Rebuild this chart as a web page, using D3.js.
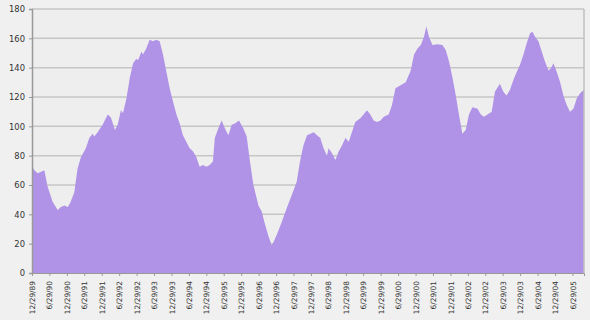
<!DOCTYPE html>
<html>
<head>
<meta charset="utf-8">
<script src="https://cdn.jsdelivr.net/npm/d3@7"></script>
<style>
  body { margin: 0; background: #f0f0f0; }
  text { font-family: "DejaVu Sans", Verdana, sans-serif; fill: #333; }
</style>
</head>
<body>
<script>
// readings (date, value)
var dates = [
  "1989-12-29","1990-01-23","1990-02-27","1990-05-07","1990-06-10","1990-08-02","1990-09-24","1990-10-28",
  "1990-12-03","1991-01-07","1991-02-04","1991-03-17","1991-04-20","1991-05-25","1991-07-16","1991-08-21",
  "1991-09-25","1991-10-13","1991-11-16","1992-01-08","1992-03-01","1992-04-04","1992-05-16","1992-06-13",
  "1992-07-18","1992-08-08","1992-09-13","1992-10-18","1992-11-22","1992-12-27","1993-01-13","1993-02-18",
  "1993-03-05","1993-04-09","1993-05-14","1993-06-18","1993-07-23","1993-08-27","1993-10-01","1993-11-06",
  "1993-12-10","1994-01-14","1994-02-19","1994-03-25","1994-04-28","1994-06-02","1994-07-07","1994-08-11",
  "1994-09-16","1994-10-20","1994-11-24","1994-12-30","1995-02-02","1995-03-08","1995-03-28","1995-05-03",
  "1995-06-07","1995-07-12","1995-08-17","1995-09-21","1995-10-25","1995-12-06","1996-01-21","1996-02-25",
  "1996-03-30","1996-05-05","1996-06-27","1996-07-31","1996-09-04","1996-10-10","1996-11-13","1996-12-01",
  "1997-01-05","1997-02-27","1997-04-18","1997-06-10","1997-08-01","1997-09-05","1997-10-11","1997-11-18",
  "1998-01-28","1998-03-02","1998-04-06","1998-05-10","1998-06-14","1998-07-02","1998-08-06","1998-09-11",
  "1998-10-16","1998-11-19","1998-12-25","1999-01-29","1999-03-03","1999-04-07","1999-05-30","1999-07-03",
  "1999-08-07","1999-09-12","1999-10-17","1999-11-21","1999-12-27","2000-01-31","2000-03-22","2000-04-26",
  "2000-06-01","2000-07-26","2000-09-17","2000-11-08","2000-12-13","2001-01-18","2001-02-22","2001-03-27",
  "2001-04-21","2001-05-18","2001-06-23","2001-08-14","2001-10-06","2001-11-10","2001-12-15","2002-01-20",
  "2002-02-23","2002-03-28","2002-05-03","2002-06-07","2002-07-11","2002-08-16","2002-10-08","2002-11-12",
  "2002-12-16","2003-01-21","2003-03-06","2003-04-09","2003-05-31","2003-07-06","2003-08-09","2003-09-14",
  "2003-10-19","2003-11-23","2003-12-28","2004-02-02","2004-03-07","2004-04-11","2004-05-06","2004-06-02",
  "2004-07-08","2004-08-11","2004-09-15","2004-10-21","2004-11-17","2004-12-12","2005-01-16","2005-02-20",
  "2005-03-26","2005-04-30","2005-06-03","2005-07-09","2005-08-13","2005-09-17","2005-10-28"
];
var values = [
  73, 70, 68, 70, 59, 48.6, 43, 45,
  46, 45, 48, 55, 71, 79, 85, 92,
  95, 93, 96, 101, 108, 106, 97.5, 101,
  111, 109, 119, 133, 143, 146, 145, 151,
  149, 153, 159, 158, 159, 158, 149, 137,
  126, 117, 108, 102, 94, 89.5, 85, 83,
  79, 72.5, 73.6, 72.5, 73.6, 76, 92, 98.6,
  104, 98.6, 94, 101, 102, 104, 98.6, 93,
  76, 60, 46, 42, 33, 25, 19, 21,
  26, 35, 44, 53, 62, 76, 87, 94,
  96, 94, 92, 85, 80, 85, 81.6, 77,
  83, 87, 92, 89.5, 96, 103, 105.5, 108,
  111, 108, 104, 103, 104, 106.5, 108, 114.5,
  126, 128, 130, 138, 149, 153, 155.5, 161,
  168, 161, 155.5, 156, 155.5, 152, 144, 133,
  121, 108, 95, 97.5, 108, 113, 112, 108,
  106.5, 108, 110, 123.6, 129, 123.6, 121, 125,
  131.6, 137, 142, 149, 156.6, 163.4, 164.5, 161,
  158, 151, 144, 138, 139.6, 143, 137, 130,
  121, 114.5, 110, 112, 119, 122.5, 125
];
var yTicks = [0, 20, 40, 60, 80, 100, 120, 140, 160, 180];

var width = 590;
var height = 320;
var margin = {top: 9, right: 6, bottom: 47, left: 32};

var parse = d3.timeParse("%Y-%m-%d");
var data = dates.map(function(d, i) { return {date: parse(d), value: values[i]}; });

// half-year ticks, 12/29/89 ... 6/29/05
var xTicks = [];
for (var y = 1989; y <= 2005; y++) {
  if (y > 1989) xTicks.push(new Date(y, 5, 29));
  if (y < 2005) xTicks.push(new Date(y, 11, 29));
}

var x = d3.scaleTime()
  .domain(d3.extent(data, function(d) { return d.date; }))
  .range([margin.left, width - margin.right]);

var yScale = d3.scaleLinear()
  .domain([0, 180])
  .range([height - margin.bottom, margin.top]);

var svg = d3.select("body").append("svg")
  .attr("width", width)
  .attr("height", height);

// plot background
svg.append("rect")
  .attr("x", margin.left)
  .attr("y", margin.top)
  .attr("width", width - margin.left - margin.right)
  .attr("height", height - margin.top - margin.bottom)
  .attr("fill", "#eeeeee");

// gridlines
svg.append("g")
  .selectAll("line")
  .data(yTicks.slice(1))
  .enter().append("line")
    .attr("x1", margin.left)
    .attr("x2", width - margin.right)
    .attr("y1", function(d) { return yScale(d); })
    .attr("y2", function(d) { return yScale(d); })
    .attr("stroke", "#c6c6c6")
    .attr("stroke-width", 1.5);

var area = d3.area()
  .x(function(d) { return x(d.date); })
  .y0(yScale(0))
  .y1(function(d) { return yScale(d.value); });

svg.append("path")
  .datum(data)
  .attr("d", area)
  .attr("fill", "#b092e6");

// right border
svg.append("line")
  .attr("x1", width - margin.right).attr("x2", width - margin.right)
  .attr("y1", margin.top).attr("y2", height - margin.bottom)
  .attr("stroke", "#c0c0c0")
  .attr("stroke-width", 1.5);

// y axis
var yAxis = d3.axisLeft(yScale)
  .tickValues(yTicks)
  .tickSize(3)
  .tickPadding(4);

var gy = svg.append("g")
  .attr("transform", "translate(" + margin.left + ",0)")
  .call(yAxis);
gy.select(".domain").attr("stroke", "#999").attr("stroke-width", 1.5);
gy.selectAll(".tick line").attr("stroke", "#999");
gy.selectAll("text").style("font-size", "8.4px").attr("fill", "#333");

// x axis
var xAxis = d3.axisBottom(x)
  .tickValues(xTicks)
  .tickSize(3)
  .tickFormat(d3.timeFormat("%-m/%d/%y"));

var gx = svg.append("g")
  .attr("transform", "translate(0," + (height - margin.bottom) + ")")
  .call(xAxis);
gx.select(".domain").attr("stroke", "#999");
gx.selectAll(".tick line").attr("stroke", "#999");
gx.selectAll("text")
  .style("font-size", "7.4px")
  .attr("fill", "#333")
  .attr("text-anchor", "end")
  .attr("transform", "rotate(-90)")
  .attr("x", -8)
  .attr("y", 0)
  .attr("dy", "0.35em");
</script>
</body>
</html>
